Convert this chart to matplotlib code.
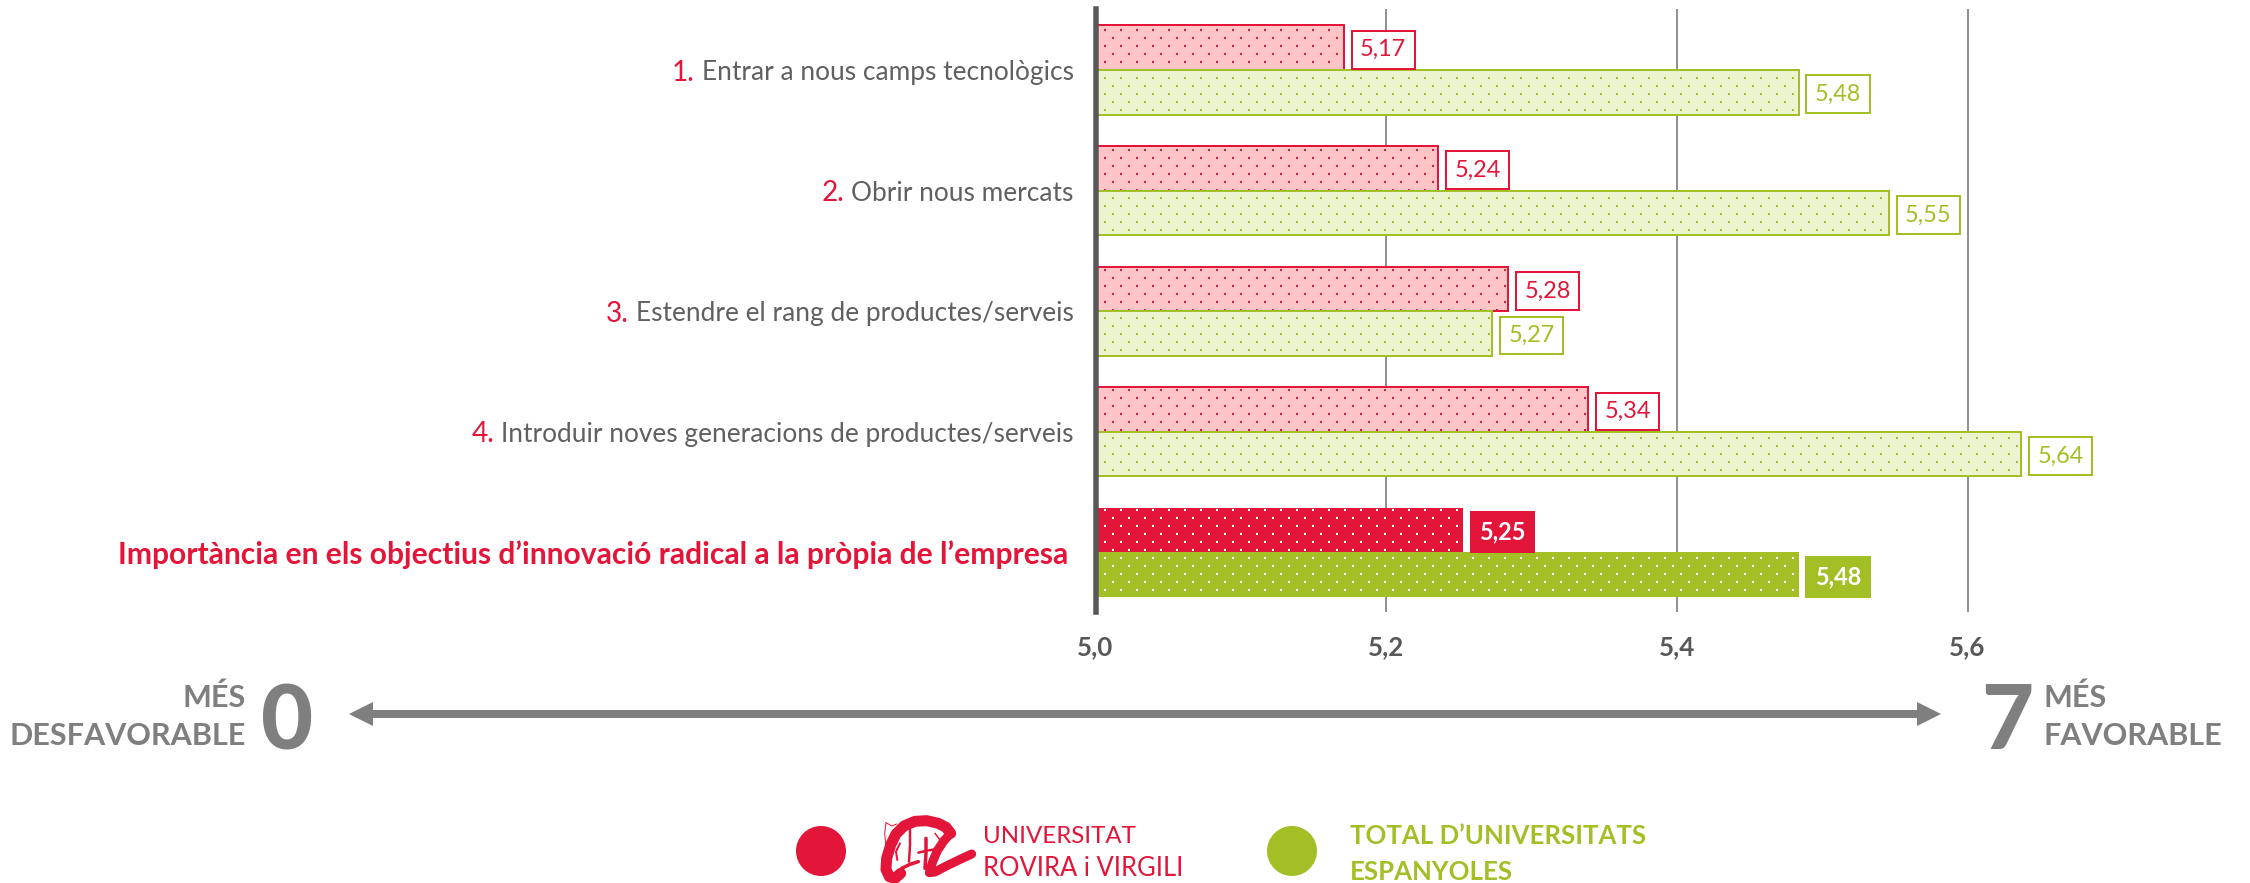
import matplotlib
matplotlib.use("Agg")
import matplotlib.pyplot as plt
import matplotlib.hatch as mhatch
from matplotlib.path import Path
from matplotlib.patches import PathPatch, Ellipse, FancyArrow
from matplotlib.transforms import ScaledTranslation
import numpy as np

# ---- data -------------------------------------------------------------
numbers = ["1.", "2.", "3.", "4.", ""]
categories = ["Entrar a nous camps tecnològics", "Obrir nous mercats",
              "Estendre el rang de productes/serveis",
              "Introduir noves generacions de productes/serveis",
              "Importància en els objectius d’innovació radical a la pròpia de l’empresa"]
urv_values = [5.171, 5.236, 5.284, 5.339, 5.253]
total_values = [5.484, 5.546, 5.273, 5.637, 5.484]
x_ticks = [5.0, 5.2, 5.4, 5.6]
x_tick_labels = ["5,0", "5,2", "5,4", "5,6"]

RED, GREEN = "#E31539", "#A2C026"
PINK, LIME = "#FFC4C6", "#EBF4CF"
DARK, GREY = "#58585A", "#7F7F7F"
TXT = "#606062"
W, H, DPI = 2250, 883, 96
plt.rcParams["font.family"] = ["Lato", "DejaVu Sans"]
plt.rcParams["hatch.linewidth"] = 0


class Dots(mhatch.HatchPatternBase):
    """Staggered lattice of tiny square dots for the '.' hatch (96 px tile)."""
    def __init__(self, hatch, density):
        self.on = hatch.count(".") > 0
        self.num_vertices = 5 * 72 if self.on else 0

    def set_vertices_and_codes(self, vertices, codes):
        i = 0
        s = 2 / DPI
        for k in range(12):
            top = 5 + 8 * k
            for c in range(6):
                x = (16 * c + (0 if k % 2 else 8)) / DPI
                y = 1 - (top + 2) / DPI
                vertices[i:i + 5] = [(x, y), (x + s, y), (x + s, y + s), (x, y + s), (x, y)]
                codes[i:i + 5] = [Path.MOVETO, Path.LINETO, Path.LINETO, Path.LINETO, Path.CLOSEPOLY]
                i += 5


mhatch._hatch_types[:] = [Dots]


def px(v):
    return v * 72 / DPI


fig = plt.figure(figsize=(W / DPI, H / DPI), dpi=DPI, facecolor="white")
PER_UNIT = (1967.5 - 1095.5) / 0.6
ax = fig.add_axes([1095.5 / W, 1 - 612 / H, 0.75 * PER_UNIT / W, (612 - 9) / H])
ax.set_xlim(5.0, 5.75)
ax.set_ylim(4.494, -0.506)
ax.patch.set_alpha(0)
y = np.arange(len(categories))
h = 0.37
for i, (a, b) in enumerate(zip(urv_values, total_values)):
    last = i == len(categories) - 1
    for v, yy, col, pale in ((a, i - h / 2, RED, PINK), (b, i + h / 2, GREEN, LIME)):
        if last:
            ax.barh(yy, v - 5.0, left=5.0, height=h, color=col, edgecolor="white", linewidth=0, hatch=".", zorder=3)
        else:
            ax.barh(yy, v - 5.0, left=5.0, height=h, color=pale, edgecolor=col, linewidth=px(2), hatch=".", zorder=3)
        ax.annotate(f"{v:.2f}".replace(".", ","), (v, yy), xytext=(px(16), 0), textcoords="offset points",
                    ha="left", va="center_baseline", fontsize=px(23.5), fontweight="bold" if last else "normal",
                    color="white" if last else col, zorder=5,
                    bbox=dict(boxstyle="square,pad=0.36", fc=col if last else "white", ec=col, lw=px(2)))

ax.set_xticks(x_ticks, x_tick_labels)
ax.set_yticks(y, categories)
ax.grid(axis="x", color="#808080", lw=px(1.7), zorder=1)
ax.set_axisbelow(True)
for s in ("top", "right", "bottom"):
    ax.spines[s].set_visible(False)
ax.spines["left"].set_linewidth(px(5.5))
ax.spines["left"].set_color(DARK)
ax.spines["left"].set_zorder(6)
ax.tick_params(axis="both", length=0)
ax.tick_params(axis="x", pad=px(23), labelsize=px(26), labelcolor=DARK)
ax.tick_params(axis="y", pad=px(22), labelsize=px(26.2), labelcolor=TXT)
for t in ax.get_xticklabels():
    t.set_fontweight("bold")
labels = ax.get_yticklabels()
labels[-1].set_color(RED)
labels[-1].set_fontweight("bold")
labels[-1].set_fontsize(px(30))
labels[-1].set_transform(labels[-1].get_transform() + ScaledTranslation(-5 / DPI, 0, fig.dpi_scale_trans))
fig.canvas.draw()
for t, n in zip(labels, numbers):
    if n:
        ax.annotate(n, xy=(0, 0.5), xycoords=t, xytext=(-px(7), 0), textcoords="offset points",
                    ha="right", va="center", color=RED, fontsize=px(28))

# ---- overlay in pixel coordinates --------------------------------------
ov = fig.add_axes([0, 0, 1, 1], zorder=10)
ov.set_xlim(0, W)
ov.set_ylim(H, 0)
ov.axis("off")
for tip in (349, 1941):
    ov.add_patch(FancyArrow(1145, 714, tip - 1145, 0, width=8, head_width=24, head_length=24,
                            length_includes_head=True, color=GREY, lw=0))
ov.text(287, 723, "0", ha="center", va="center", fontsize=px(90), fontweight="black", color=GREY)
ov.text(2007, 723, "7", ha="center", va="center", fontsize=px(90), fontweight="black", color=GREY)
ov.text(246, 707, "MÉS", ha="right", va="baseline", fontsize=px(30.5), fontweight="bold", color=GREY)
ov.text(246, 745, "DESFAVORABLE", ha="right", va="baseline", fontsize=px(30.5), fontweight="bold", color=GREY)
ov.text(2044, 707, "MÉS", ha="left", va="baseline", fontsize=px(30.5), fontweight="bold", color=GREY)
ov.text(2044, 745, "FAVORABLE", ha="left", va="baseline", fontsize=px(30.5), fontweight="bold", color=GREY)

ov.add_patch(Ellipse((821, 851), 50, 50, color=RED, lw=0))
ov.add_patch(Ellipse((1292, 851), 50, 50, color=GREEN, lw=0))


# URV logo: a brush-drawn "a" sketched as strokes (crop coordinates, 3x, origin 860,810)
def stroke(pts, lw):
    p = np.array(pts, float) / 3 + (860, 810)
    ov.add_patch(PathPatch(Path(p), fc="none", ec=RED, lw=px(lw), capstyle="round", joinstyle="round"))


stroke([(272, 70), (258, 52), (235, 40), (200, 32), (165, 34), (132, 48), (108, 72), (92, 105),
        (80, 145), (78, 178), (88, 200), (105, 205), (122, 190)], 11)
stroke([(272, 70), (252, 92), (232, 122), (218, 155), (208, 188), (225, 186), (255, 170),
        (290, 153), (335, 132)], 9)
stroke([(150, 60), (150, 105), (147, 155)], 2.5)
stroke([(125, 175), (150, 163), (175, 155)], 3.5)
stroke([(198, 85), (198, 130), (195, 175)], 3.5)
stroke([(175, 128), (200, 122), (225, 118)], 2.5)
stroke([(120, 100), (108, 125), (112, 150)], 2)
stroke([(78, 38), (74, 70), (78, 110)], 1)
stroke([(78, 38), (95, 48), (110, 42)], 1)
stroke([(225, 70), (240, 90), (232, 120)], 1.5)

ov.text(983, 843, "UNIVERSITAT", ha="left", va="baseline", fontsize=px(24), color=RED)
ov.text(983, 876, "ROVIRA i VIRGILI", ha="left", va="baseline", fontsize=px(25.5), color=RED)
ov.text(1350, 844, "TOTAL D’UNIVERSITATS", ha="left", va="baseline", fontsize=px(25.7), fontweight="bold", color=GREEN)
ov.text(1350, 880, "ESPANYOLES", ha="left", va="baseline", fontsize=px(25.7), fontweight="bold", color=GREEN)

fig.savefig("out.png", dpi=DPI)
